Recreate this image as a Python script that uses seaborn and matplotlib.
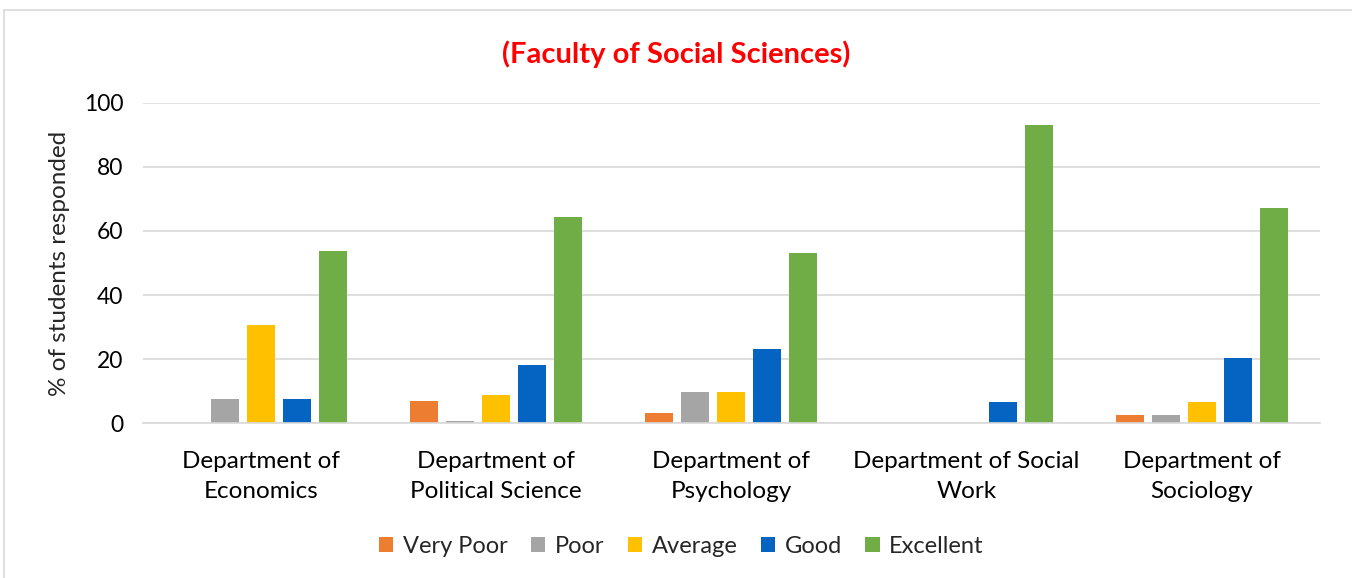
import pandas as pd
import numpy as np
from matplotlib import pyplot as plt
from matplotlib.patches import Rectangle
import seaborn as sb

departments = ["Department of\nEconomics", "Department of\nPolitical Science",
               "Department of\nPsychology", "Department of Social\nWork",
               "Department of\nSociology"]
ratings = ["Very Poor", "Poor", "Average", "Good", "Excellent"]

very_poor = [0.0, 7.0, 3.0, 0.0, 2.6]
poor = [7.4, 0.5, 9.7, 0.0, 2.6]
average = [30.6, 8.9, 9.7, 0.0, 6.6]
good = [7.4, 18.2, 23.2, 6.7, 20.4]
excellent = [53.8, 64.5, 53.2, 93.1, 67.1]

colors = ["#ED7D31", "#A5A5A5", "#FFC000", "#0563C1", "#70AD47"]

#long format table for seaborn
rows = []
for rating, vals in zip(ratings, [very_poor, poor, average, good, excellent]):
    for dept, v in zip(departments, vals):
        rows.append({"dept": dept, "rating": rating, "pct": v})
df = pd.DataFrame(rows)

sb.set_style("white")
plt.rcParams['font.family'] = ['Lato', 'DejaVu Sans']

fig = plt.figure(figsize=(13.52, 5.78), dpi=100)
ax = fig.add_axes([0.1058, 0.268, 0.8702, 0.554])

sb.barplot(data=df, x="dept", y="pct", hue="rating", order=departments,
           hue_order=ratings, palette=colors, width=0.766, gap=0.22,
           ax=ax, saturation=1, edgecolor="none", legend=True)

ax.set_ylim(0, 100)
ax.set_xlim(-0.5, 4.5)
ax.set_yticks([0, 20, 40, 60, 80, 100])
ax.yaxis.grid(True, color="#D9D9D9", linewidth=1.2)
ax.set_axisbelow(True)
for s in ["top", "right", "left"]:
    ax.spines[s].set_visible(False)
ax.spines["bottom"].set_color("#D9D9D9")
ax.spines["bottom"].set_linewidth(1.2)
ax.tick_params(axis="both", length=0, labelsize=16.5, colors="black")
ax.tick_params(axis="y", pad=14)
ax.tick_params(axis="x", pad=20)
for lbl in ax.get_xticklabels():
    lbl.set_fontsize(17.5)
    lbl.set_linespacing(1.55)
ax.set_xlabel("")
ax.set_ylabel("% of students responded", fontsize=17.5, labelpad=10)

ax.legend(loc="center", bbox_to_anchor=(0.504, 0.054), bbox_transform=fig.transFigure,
          ncol=5, frameon=False, fontsize=17, handlelength=0.6, handleheight=0.6,
          handletextpad=0.4, columnspacing=1.0)

fig.text(0.5, 0.907, "(Faculty of Social Sciences)", color="#FF0000",
         fontsize=21, fontweight="bold", ha="center", va="center")

fig.patches.append(Rectangle((0.003, -0.01), 1.0, 0.993, transform=fig.transFigure,
                             fill=False, edgecolor="#D9D9D9", linewidth=1.2))

plt.savefig("out.png", dpi=100)
